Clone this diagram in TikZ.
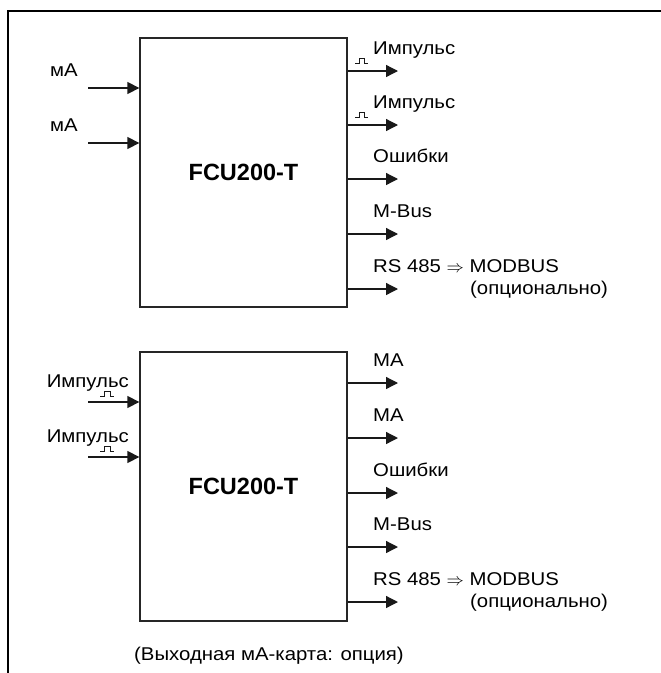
\documentclass[tikz,border=0pt]{standalone}
\usepackage{fontspec}
\setmainfont{Liberation Sans}
\newfontfamily\lblfont[FakeStretch=1.1]{Liberation Sans}
\usetikzlibrary{arrows.meta}
\begin{document}
\begin{tikzpicture}[x=1pt,y=-1pt,
  lbl/.style={font=\lblfont\fontsize{18.5}{22}\selectfont, inner sep=0pt, anchor=base west},
  lblr/.style={font=\lblfont\fontsize{18.5}{22}\selectfont, inner sep=0pt, anchor=base east},
  arr/.style={-{Triangle[length=12pt,width=12pt]}, line width=1.3pt, draw=black!90},
  unitbox/.style={draw=black!85, line width=1.3pt, inner sep=0pt, minimum width=207pt, minimum height=269pt,
    font=\fontsize{23.5}{26}\selectfont\bfseries},
  pulse/.style={line width=1pt, draw=black!90}]
\useasboundingbox (0,0) rectangle (661,673);
% frame
\draw[line width=1.5pt] (8,673) -- (8,11) -- (661,11);

% ---------- top unit ----------
\node[unitbox] (A) at (243.5,172.5) {FCU200-T};
% inputs
\coordinate (ai1) at (88,88);
\coordinate (ai2) at (88,143);
\draw[arr] (ai1) -- (A.west |- ai1);
\draw[arr] (ai2) -- (A.west |- ai2);
\node[lbl] (la1) at (50,76) {мА};
\node[lbl] (la2) at (50,131) {мА};
% outputs
\foreach \i/\yy in {1/71,2/125,3/179,4/234,5/289}{
  \coordinate (ao\i) at (398,\yy);
  \draw[arr] (A.east |- ao\i) -- (ao\i);
}
\draw[pulse] (355,63) -- (359,63) -- (359,58) -- (364,58) -- (364,63) -- (368,63);
\draw[pulse] (355,117) -- (359,117) -- (359,112) -- (364,112) -- (364,117) -- (368,117);
\node[lbl] (lo1) at (373,54) {Импульс};
\node[lbl] (lo2) at (373,108) {Импульс};
\node[lbl] (lo3) at (373,162) {Ошибки};
\node[lbl] (lo4) at (373,217) {M-Bus};
\node[lbl] (lo5) at (373,272) {RS 485 $\Rightarrow$ MODBUS};
\node[lbl] (lo6) at (470,294) {(опционально)};

% ---------- bottom unit ----------
\node[unitbox] (B) at (243.5,486.5) {FCU200-T};
% inputs
\coordinate (bi1) at (88,402);
\coordinate (bi2) at (88,457);
\draw[arr] (bi1) -- (B.west |- bi1);
\draw[arr] (bi2) -- (B.west |- bi2);
\draw[pulse] (100,396) -- (104,396) -- (104,391) -- (110,391) -- (110,396) -- (114,396);
\draw[pulse] (100,451) -- (104,451) -- (104,446) -- (110,446) -- (110,451) -- (114,451);
\node[lblr] (lb1) at (129,387) {Импульс};
\node[lblr] (lb2) at (129,442) {Импульс};
% outputs
\foreach \i/\yy in {1/383,2/438,3/493,4/547,5/602}{
  \coordinate (bo\i) at (398,\yy);
  \draw[arr] (B.east |- bo\i) -- (bo\i);
}
\node[lbl] (lbo1) at (373,366) {MA};
\node[lbl] (lbo2) at (373,421) {MA};
\node[lbl] (lbo3) at (373,476) {Ошибки};
\node[lbl] (lbo4) at (373,530) {M-Bus};
\node[lbl] (lbo5) at (373,585) {RS 485 $\Rightarrow$ MODBUS};
\node[lbl] (lbo6) at (470,607) {(опционально)};

\node[lbl] (cap) at (134,660) {(Выходная мА-карта: опция)};
\end{tikzpicture}
\end{document}
